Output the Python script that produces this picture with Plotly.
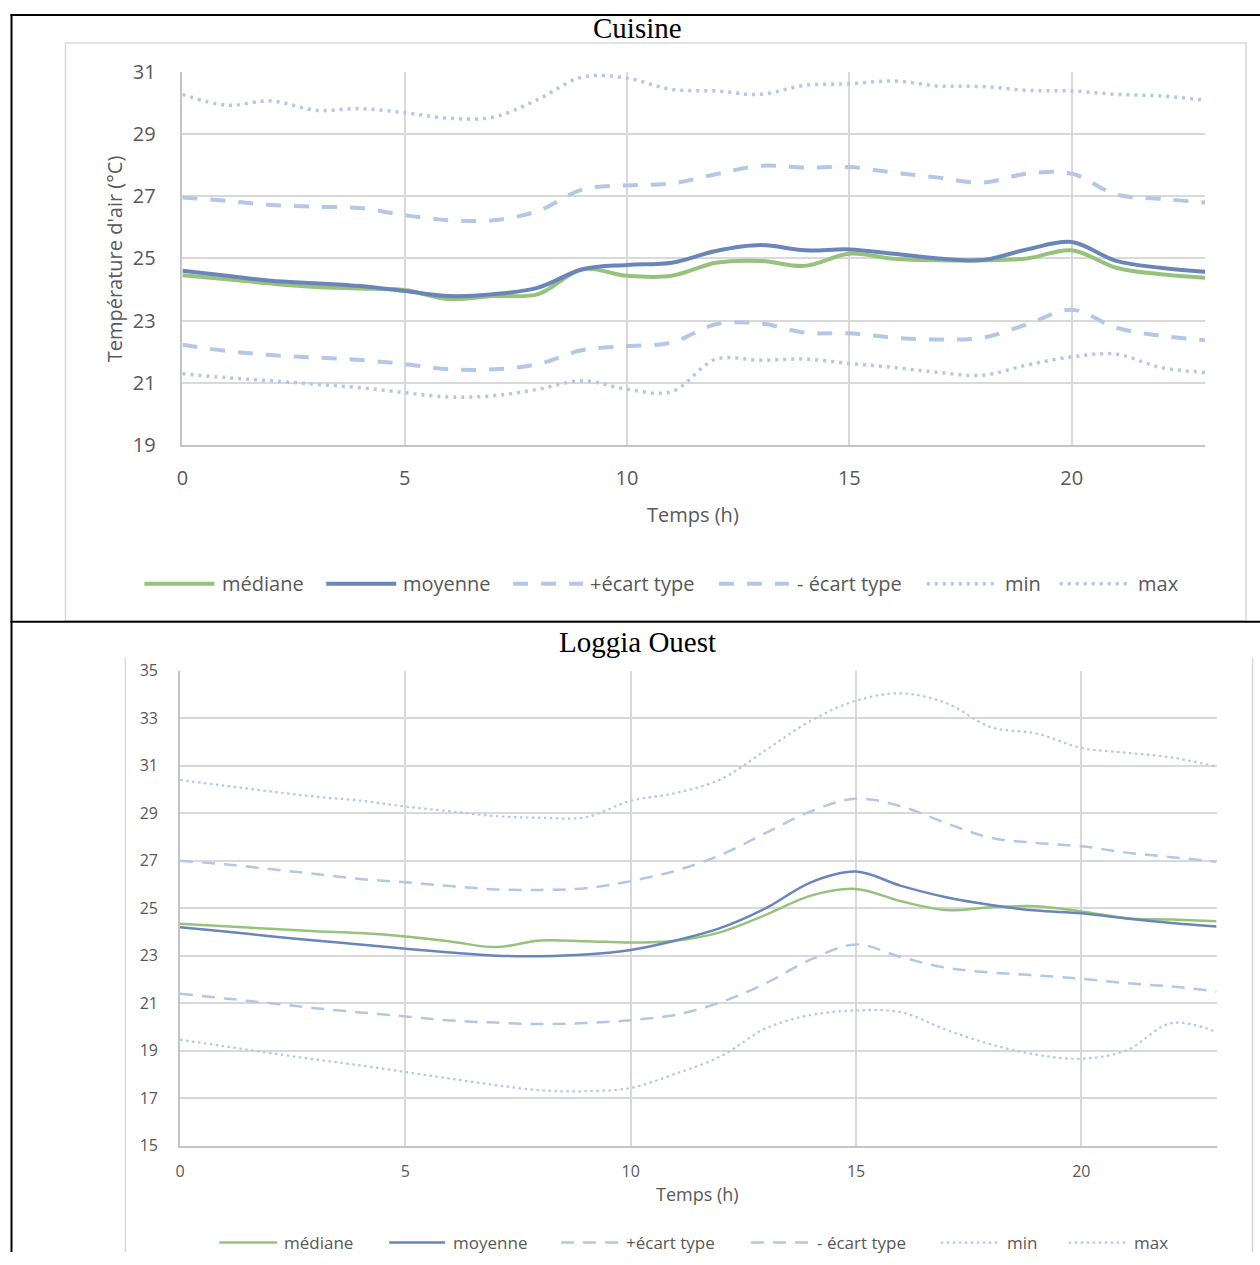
import plotly.graph_objects as go

# ---------------- data ----------------
hours = list(range(24))
x_ticks = [0, 5, 10, 15, 20]

series_names = ["médiane", "moyenne", "+écart type", "- écart type", "min", "max"]

# Cuisine
cu_median = [24.46, 24.33, 24.19, 24.08, 24.03, 23.98, 23.69, 23.79, 23.85, 24.65, 24.44, 24.44,
             24.86, 24.92, 24.76, 25.15, 24.99, 24.94, 24.94, 25.00, 25.26, 24.70, 24.49, 24.38]
cu_mean = [24.60, 24.44, 24.28, 24.20, 24.11, 23.95, 23.79, 23.85, 24.06, 24.65, 24.79, 24.86,
           25.24, 25.43, 25.26, 25.29, 25.15, 25.00, 24.95, 25.29, 25.53, 24.92, 24.70, 24.57]
cu_std_plus = [26.96, 26.85, 26.72, 26.66, 26.62, 26.39, 26.23, 26.23, 26.53, 27.22, 27.35, 27.41,
               27.71, 27.98, 27.92, 27.94, 27.76, 27.60, 27.44, 27.73, 27.73, 27.06, 26.92, 26.80]
cu_std_minus = [22.22, 22.02, 21.89, 21.81, 21.73, 21.60, 21.43, 21.43, 21.60, 22.05, 22.18, 22.29,
                22.88, 22.91, 22.61, 22.59, 22.45, 22.39, 22.45, 22.88, 23.35, 22.77, 22.51, 22.37]
cu_min = [21.29, 21.16, 21.06, 20.95, 20.84, 20.68, 20.54, 20.58, 20.79, 21.06, 20.79, 20.71,
          21.76, 21.72, 21.76, 21.62, 21.49, 21.33, 21.24, 21.57, 21.83, 21.92, 21.49, 21.33]
cu_max = [30.28, 29.93, 30.07, 29.77, 29.82, 29.69, 29.51, 29.55, 30.12, 30.84, 30.80, 30.44,
          30.39, 30.28, 30.57, 30.62, 30.71, 30.55, 30.53, 30.41, 30.39, 30.28, 30.23, 30.09]

# Loggia Ouest
lo_median = [24.34, 24.24, 24.13, 24.03, 23.95, 23.81, 23.60, 23.36, 23.64, 23.61, 23.55, 23.63,
             23.99, 24.72, 25.53, 25.81, 25.29, 24.92, 25.04, 25.08, 24.86, 24.58, 24.52, 24.45]
lo_mean = [24.20, 24.02, 23.82, 23.64, 23.47, 23.29, 23.13, 23.00, 22.98, 23.05, 23.24, 23.64,
           24.17, 25.00, 26.09, 26.54, 25.94, 25.46, 25.13, 24.90, 24.79, 24.57, 24.38, 24.23]
lo_std_plus = [27.00, 26.85, 26.65, 26.44, 26.23, 26.09, 25.93, 25.79, 25.77, 25.84, 26.14, 26.58,
               27.24, 28.17, 29.08, 29.61, 29.29, 28.58, 27.96, 27.75, 27.61, 27.34, 27.15, 26.96]
lo_std_minus = [21.40, 21.20, 21.00, 20.79, 20.61, 20.44, 20.27, 20.18, 20.12, 20.16, 20.28, 20.51,
                21.04, 21.84, 22.84, 23.47, 22.94, 22.49, 22.29, 22.17, 22.03, 21.84, 21.70, 21.49]
lo_min = [19.46, 19.18, 18.90, 18.63, 18.38, 18.10, 17.82, 17.55, 17.33, 17.29, 17.43, 18.03,
          18.76, 19.94, 20.50, 20.69, 20.62, 19.88, 19.26, 18.83, 18.66, 19.01, 20.16, 19.78]
lo_max = [30.40, 30.16, 29.92, 29.70, 29.53, 29.28, 29.08, 28.88, 28.81, 28.83, 29.52, 29.85,
          30.43, 31.66, 32.90, 33.74, 34.05, 33.64, 32.62, 32.36, 31.75, 31.55, 31.35, 30.96]

# ---------------- styling ----------------
W, H = 1260, 1265
GREEN = "#96c27c"
BLUE = "#6a86b9"
LIGHT = "#b4c7e7"
GRID = "#d9d9d9"
AXIS = "#c4c4c4"
TXT = "#595959"
SANS = "Open Sans"
SERIF = "Liberation Serif"

# The photographed page shows up slightly inset; positions below are given in
# target-picture pixels and mapped back to page pixels.
SX, OX = 0.996, 4.5
SY, OY = 0.979, 13.0


def px(x):
    v = (x - OX) / SX / W
    return min(max(v, 0.0), 1.0)


def py(y):
    v = 1 - ((y - OY) / SY) / H
    return min(max(v, 0.0), 1.0)


top_styles = [
    dict(color=GREEN, width=4, dash="solid"),
    dict(color=BLUE, width=4, dash="solid"),
    dict(color=LIGHT, width=4, dash="15px,13px"),
    dict(color=LIGHT, width=4, dash="15px,13px"),
    dict(color=LIGHT, width=3.5, dash="3px,5px"),
    dict(color=LIGHT, width=3.5, dash="3px,5px"),
]
bot_styles = [
    dict(color=GREEN, width=2.5, dash="solid"),
    dict(color=BLUE, width=2.5, dash="solid"),
    dict(color=LIGHT, width=2.5, dash="13px,9px"),
    dict(color=LIGHT, width=2.5, dash="13px,9px"),
    dict(color=LIGHT, width=2.2, dash="2.5px,3.5px"),
    dict(color=LIGHT, width=2.2, dash="2.5px,3.5px"),
]

fig = go.Figure()

top_data = [cu_median, cu_mean, cu_std_plus, cu_std_minus, cu_min, cu_max]
bot_data = [lo_median, lo_mean, lo_std_plus, lo_std_minus, lo_min, lo_max]

for name, vals, st in zip(series_names, top_data, top_styles):
    fig.add_trace(go.Scatter(x=hours, y=vals, mode="lines", name=name,
                             line=dict(shape="spline", smoothing=1, **st),
                             xaxis="x", yaxis="y", showlegend=False, hoverinfo="skip"))
for name, vals, st in zip(series_names, bot_data, bot_styles):
    fig.add_trace(go.Scatter(x=hours, y=vals, mode="lines", name=name,
                             line=dict(shape="spline", smoothing=1, **st),
                             xaxis="x2", yaxis="y2", showlegend=False, hoverinfo="skip"))

common = dict(showgrid=True, gridcolor=GRID, gridwidth=1.5, zeroline=False,
              showline=True, linecolor=AXIS, linewidth=1.5, ticks="", fixedrange=True)

fig.update_layout(
    width=W, height=H,
    margin=dict(l=0, r=0, t=0, b=0),
    paper_bgcolor="white", plot_bgcolor="white",
    showlegend=False,
    xaxis=dict(domain=[px(181), px(1204.5)], range=[0, 23], tickvals=x_ticks, anchor="y",
               tickfont=dict(family=SANS, size=20, color=TXT), ticklabelstandoff=14, **common),
    yaxis=dict(domain=[py(444), py(71)], range=[19, 31], dtick=2, tick0=19, anchor="x",
               tickfont=dict(family=SANS, size=20, color=TXT), ticklabelstandoff=21, **common),
    xaxis2=dict(domain=[px(178.6), px(1216)], range=[0, 23], tickvals=x_ticks, anchor="y2",
                tickfont=dict(family=SANS, size=16, color=TXT), ticklabelstandoff=10, **common),
    yaxis2=dict(domain=[py(1145), py(670)], range=[15, 35], dtick=2, tick0=15, anchor="x2",
                tickfont=dict(family=SANS, size=16, color=TXT), ticklabelstandoff=17, **common),
)

shapes = []
# table borders (black)
shapes.append(dict(type="line", x0=px(10), x1=px(10), y0=py(7), y1=py(1265),
                   line=dict(color="black", width=2)))
shapes.append(dict(type="line", x0=px(9), x1=px(1262), y0=1 - 1.0 / H, y1=1 - 1.0 / H,
                   line=dict(color="black", width=2)))
shapes.append(dict(type="line", x0=px(9), x1=px(1262), y0=py(621), y1=py(621),
                   line=dict(color="black", width=2)))
# chart frames (light gray)
shapes.append(dict(type="rect", x0=px(64), x1=px(1245.5), y0=py(620), y1=py(42),
                   line=dict(color=GRID, width=1.5), layer="below"))
shapes.append(dict(type="line", x0=px(124), x1=px(124), y0=py(657), y1=py(1265),
                   line=dict(color=GRID, width=1.5)))
shapes.append(dict(type="line", x0=px(1252), x1=px(1252), y0=py(657), y1=py(1265),
                   line=dict(color=GRID, width=1.5)))

annotations = []
annotations.append(dict(text="Cuisine", x=px(636), y=py(27), xref="paper", yref="paper",
                        showarrow=False, xanchor="center", yanchor="middle",
                        font=dict(family=SERIF, size=29, color="black")))
annotations.append(dict(text="Loggia Ouest", x=px(636), y=py(641), xref="paper", yref="paper",
                        showarrow=False, xanchor="center", yanchor="middle",
                        font=dict(family=SERIF, size=29, color="black")))
annotations.append(dict(text="Température d'air (°C)", x=px(113), y=py(258), xref="paper",
                        yref="paper", showarrow=False, textangle=-90, xanchor="center",
                        yanchor="middle", font=dict(family=SANS, size=20, color=TXT)))
annotations.append(dict(text="Temps (h)", x=px(692.5), y=py(514), xref="paper", yref="paper",
                        showarrow=False, xanchor="center", yanchor="middle",
                        font=dict(family=SANS, size=20, color=TXT)))
annotations.append(dict(text="Temps (h)", x=px(697), y=py(1193), xref="paper", yref="paper",
                        showarrow=False, xanchor="center", yanchor="middle",
                        font=dict(family=SANS, size=18, color=TXT)))

# legends (keys + labels)
top_leg = [(143, 213, 219), (325, 395, 400), (512, 582, 587), (718, 788, 794), (926, 996, 1002), (1059, 1129, 1135)]
bot_leg = [(218, 276, 281), (388, 444, 450), (560, 618, 623), (750, 808, 814), (940, 998, 1004), (1068, 1126, 1131)]

for (x0, x1, xt), name, st in zip(top_leg, series_names, top_styles):
    shapes.append(dict(type="line", x0=px(x0), x1=px(x1), y0=py(583), y1=py(583),
                       line=dict(color=st["color"], width=st["width"], dash=st["dash"])))
    annotations.append(dict(text=name, x=px(xt), y=py(583), xref="paper", yref="paper",
                            showarrow=False, xanchor="left", yanchor="middle",
                            font=dict(family=SANS, size=20, color=TXT)))
for (x0, x1, xt), name, st in zip(bot_leg, series_names, bot_styles):
    shapes.append(dict(type="line", x0=px(x0), x1=px(x1), y0=py(1242), y1=py(1242),
                       line=dict(color=st["color"], width=st["width"], dash=st["dash"])))
    annotations.append(dict(text=name, x=px(xt), y=py(1242), xref="paper", yref="paper",
                            showarrow=False, xanchor="left", yanchor="middle",
                            font=dict(family=SANS, size=17, color=TXT)))

for s in shapes:
    s.setdefault("xref", "paper")
    s.setdefault("yref", "paper")

fig.update_layout(shapes=shapes, annotations=annotations)

post = (
    "var gd=document.getElementById('{plot_id}');"
    "var de=document.documentElement,b=document.body;"
    "de.style.margin='0';de.style.padding='0';de.style.overflow='hidden';"
    "b.style.margin='0';b.style.padding='0';b.style.overflow='hidden';"
    "de.style.height='1265px';b.style.height='1265px';"
    "gd.style.position='fixed';gd.style.left='0px';gd.style.top='0px';"
)
fig.write_html("out.html", config={"displayModeBar": False}, post_script=post)
